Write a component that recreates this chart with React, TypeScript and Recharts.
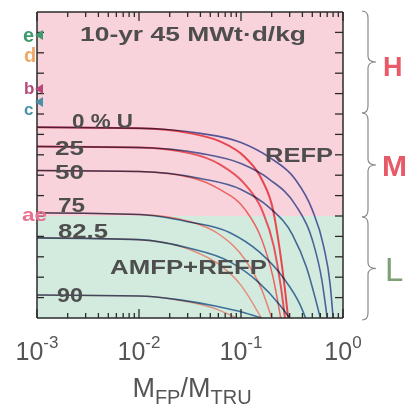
import React from 'react';
import { LineChart, Line, XAxis, YAxis, ReferenceArea } from 'recharts';

// x: M_FP / M_TRU (log), y: arbitrary attractiveness scale 0..15
const xMajor = [0.001, 0.01, 0.1, 1];
const xMajorExp = ['-3', '-2', '-1', '0'];
const xTicks = [
  0.001, 0.002, 0.003, 0.004, 0.005, 0.006, 0.007, 0.008, 0.009,
  0.01, 0.02, 0.03, 0.04, 0.05, 0.06, 0.07, 0.08, 0.09,
  0.1, 0.2, 0.3, 0.4, 0.5, 0.6, 0.7, 0.8, 0.9, 1,
];
const yTicks = [1, 2, 3, 4, 5, 6, 7, 8, 9, 10, 11, 12, 13, 14];
const zoneBoundary = 5;
const yTop = 15;

// REFP curves (blue)
const refp0 = [[0.001, 9.35], [0.01, 9.3], [0.04, 9.05], [0.1, 8.6], [0.19, 7.87], [0.34, 6.8], [0.5, 5.3], [0.64, 3.6], [0.75, 1.6], [0.8, 0]];
const refp25 = [[0.001, 8.41], [0.01, 8.36], [0.04, 8.07], [0.1, 7.57], [0.19, 6.8], [0.34, 5.56], [0.5, 3.84], [0.62, 1.87], [0.7, 0]];
const refp50 = [[0.001, 7.23], [0.01, 7.18], [0.04, 6.84], [0.1, 6.3], [0.19, 5.41], [0.32, 4.08], [0.44, 2.46], [0.54, 0.89], [0.6, 0]];
const refp75 = [[0.001, 5.16], [0.01, 5.07], [0.03, 4.72], [0.078, 4.18], [0.15, 3.25], [0.26, 1.97], [0.38, 0.64], [0.43, 0]];
const refp825 = [[0.001, 3.93], [0.01, 3.84], [0.03, 3.44], [0.078, 2.75], [0.147, 1.77], [0.24, 0.64], [0.3, 0]];
const refp90 = [[0.001, 1.13], [0.01, 1.08], [0.025, 0.89], [0.056, 0.59], [0.11, 0.25], [0.16, 0]];

// AMFP+REFP curves (red)
const amfp0 = [[0.001, 9.35], [0.01, 9.3], [0.032, 9.05], [0.062, 8.66], [0.11, 7.87], [0.16, 6.79], [0.206, 5.31], [0.24, 3.34], [0.27, 1.38], [0.29, 0]];
const amfp25 = [[0.001, 8.41], [0.01, 8.36], [0.032, 8.07], [0.062, 7.53], [0.11, 6.54], [0.16, 5.31], [0.21, 3.5], [0.245, 1.6], [0.27, 0]];
const amfp50 = [[0.001, 7.23], [0.01, 7.18], [0.032, 6.89], [0.062, 6.3], [0.11, 5.31], [0.16, 3.84], [0.206, 2.0], [0.245, 0]];
const amfp75 = [[0.001, 5.16], [0.01, 5.07], [0.032, 4.72], [0.062, 4.08], [0.11, 2.85], [0.16, 1.38], [0.2, 0]];
const amfp825 = [[0.001, 3.93], [0.01, 3.84], [0.032, 3.34], [0.062, 2.6], [0.1, 1.6], [0.135, 0.6], [0.158, 0]];
const amfp90 = [[0.001, 1.13], [0.01, 1.08], [0.03, 0.8], [0.06, 0.4], [0.09, 0]];

const refpCurves = [refp0, refp25, refp50, refp75, refp825, refp90];
const amfpCurves = [amfp0, amfp25, amfp50, amfp75, amfp825, amfp90];
const refpColors = ['#5a66b0', '#5a6cae', '#5470aa', '#4f76ac', '#4a7aae', '#4a7cb0'];
const amfpColors = ['#e8464f', '#e8525a', '#e86460', '#e88272', '#e2907c', '#d89484'];

const toPts = (c: number[][]) => c.map(([x, y]) => ({ x, y }));

const FONT = '"Liberation Sans", Arial, Helvetica, sans-serif';
const AX = '#2a2a2a';

const isMajor = (v: number) => xMajor.findIndex((m) => Math.abs(Math.log10(v) - Math.log10(m)) < 1e-6);

const BottomTick = (props: any) => {
  const { x, y, payload } = props;
  const idx = isMajor(payload.value);
  const len = idx >= 0 ? 9 : 5;
  return (
    <g>
      <line x1={x} x2={x} y1={y} y2={y - len} stroke={AX} strokeWidth={1.3} />
      {idx >= 0 && (
        <text x={x} y={y + 42} textAnchor="middle" fontFamily={FONT} fontSize={25} fill="#555">
          <tspan>10</tspan>
          <tspan dy={-12} fontSize={17}>{xMajorExp[idx]}</tspan>
        </text>
      )}
    </g>
  );
};

const TopTick = (props: any) => {
  const { x, y, payload } = props;
  const idx = isMajor(payload.value);
  const len = idx >= 0 ? 9 : 5;
  return <line x1={x} x2={x} y1={y} y2={y + len} stroke={AX} strokeWidth={1.3} />;
};

const LeftTick = (props: any) => {
  const { x, y } = props;
  return <line x1={x} x2={x + 7} y1={y} y2={y} stroke={AX} strokeWidth={1.3} />;
};

const RightTick = (props: any) => {
  const { x, y } = props;
  return <line x1={x} x2={x - 8} y1={y} y2={y} stroke={AX} strokeWidth={1.3} />;
};

const brace = (x0: number, y1: number, y2: number, tipX: number) => {
  const ym = (y1 + y2) / 2;
  return `M ${x0 - 6} ${y1} Q ${x0} ${y1} ${x0} ${y1 + 7} L ${x0} ${ym - 6} Q ${x0} ${ym} ${tipX} ${ym} Q ${x0} ${ym} ${x0} ${ym + 6} L ${x0} ${y2 - 7} Q ${x0} ${y2} ${x0 - 6} ${y2}`;
};

const Lbl = ({ x, y, t, len, size = 21 }: { x: number; y: number; t: string; len: number; size?: number }) => (
  <text x={x} y={y} fontFamily={FONT} fontSize={size} fontWeight="bold" fill="#4e4e4e" textLength={len} lengthAdjust="spacingAndGlyphs">
    {t}
  </text>
);

export default function App() {
  return (
    <div style={{ position: 'absolute', left: 0, top: 0, width: 410, height: 414, background: '#fff' }}>
      <style>{`.blend-line path { mix-blend-mode: multiply; }`}</style>
      <LineChart width={410} height={414} margin={{ top: 2, right: 57, bottom: 66, left: 27 }}>
        <ReferenceArea x1={0.001} x2={1} y1={zoneBoundary} y2={yTop} fill="#f8d3dc" fillOpacity={1} stroke="none" ifOverflow="hidden" />
        <ReferenceArea x1={0.001} x2={1} y1={0} y2={zoneBoundary} fill="#d3ebdf" fillOpacity={1} stroke="none" ifOverflow="hidden" />
        <XAxis
          dataKey="x"
          type="number"
          scale="log"
          domain={[0.001, 1]}
          allowDataOverflow
          ticks={xTicks}
          interval={0}
          height={30}
          tickSize={0}
          tickMargin={0}
          tick={<BottomTick />}
          axisLine={{ stroke: AX, strokeWidth: 1.5 }}
          tickLine={false}
        />
        <XAxis
          xAxisId="top"
          orientation="top"
          dataKey="x"
          type="number"
          scale="log"
          domain={[0.001, 1]}
          allowDataOverflow
          ticks={xTicks}
          interval={0}
          height={10}
          tickSize={0}
          tickMargin={0}
          tick={<TopTick />}
          axisLine={{ stroke: AX, strokeWidth: 1.5 }}
          tickLine={false}
        />
        <YAxis
          type="number"
          domain={[0, yTop]}
          allowDataOverflow
          ticks={yTicks}
          interval={0}
          width={10}
          tickSize={0}
          tickMargin={0}
          tick={<LeftTick />}
          axisLine={{ stroke: AX, strokeWidth: 1.5 }}
          tickLine={false}
        />
        <YAxis
          yAxisId="right"
          orientation="right"
          type="number"
          domain={[0, yTop]}
          allowDataOverflow
          ticks={yTicks}
          interval={0}
          width={10}
          tickSize={0}
          tickMargin={0}
          tick={<RightTick />}
          axisLine={{ stroke: AX, strokeWidth: 1.5 }}
          tickLine={false}
        />
        {amfpCurves.map((c, i) => (
          <Line
            key={'a' + i}
            data={toPts(c)}
            dataKey="y"
            type="monotone"
            stroke={amfpColors[i]}
            strokeWidth={i < 2 ? 2 : 1.5}
            dot={false}
            isAnimationActive={false}
          />
        ))}
        {refpCurves.map((c, i) => (
          <Line
            key={'r' + i}
            className="blend-line"
            data={toPts(c)}
            dataKey="y"
            type="monotone"
            stroke={refpColors[i]}
            strokeWidth={1.6}
            dot={false}
            isAnimationActive={false}
          />
        ))}
      </LineChart>
      <svg width={410} height={414} style={{ position: 'absolute', left: 0, top: 0, pointerEvents: 'none' }}>
        <Lbl x={80} y={41} t="10-yr 45 MWt·d/kg" len={226} />
        <Lbl x={72} y={128} t="0 % U" len={61} size={20} />
        <Lbl x={55} y={155} t="25" len={29} />
        <Lbl x={55} y={179} t="50" len={29} />
        <Lbl x={58} y={212} t="75" len={27} />
        <Lbl x={58} y={238} t="82.5" len={50} />
        <Lbl x={57} y={302} t="90" len={26} />
        <Lbl x={265} y={162} t="REFP" len={68} />
        <Lbl x={110} y={274} t="AMFP+REFP" len={157} />

        <text x={23} y={42} fontFamily={FONT} fontSize={20} fontWeight="bold" fill="#3f9a6e">e</text>
        <path d="M 35 35 L 43 30 L 43 40 Z" fill="#3f9a6e" />
        <text x={24} y={62} fontFamily={FONT} fontSize={20} fontWeight="bold" fill="#f0a868">d</text>
        <text x={24} y={94} fontFamily={FONT} fontSize={17} fontWeight="bold" fill="#b84878">b</text>
        <path d="M 35 89 L 43 84 L 43 94 Z" fill="#b84878" />
        <text x={24} y={115} fontFamily={FONT} fontSize={17} fontWeight="bold" fill="#4a90a8">c</text>
        <path d="M 35 102 L 43 97 L 43 107 Z" fill="#4a90a8" />
        <text x={22} y={221} fontFamily={FONT} fontSize={19} fontWeight="bold" fill="#e87090" textLength={25} lengthAdjust="spacingAndGlyphs">ae</text>

        <path d={brace(368, 11, 113, 376)} fill="none" stroke="#8a8a8a" strokeWidth={1.2} />
        <path d={brace(368, 113, 217, 376)} fill="none" stroke="#8a8a8a" strokeWidth={1.2} />
        <path d={brace(368, 217, 320, 376)} fill="none" stroke="#8a8a8a" strokeWidth={1.2} />
        <text x={383} y={76} fontFamily={FONT} fontSize={27} fontWeight="bold" fill="#e85a68">H</text>
        <text x={382} y={176} fontFamily={FONT} fontSize={30} fontWeight="bold" fill="#e85a68">M</text>
        <text x={385} y={281} fontFamily={FONT} fontSize={33} fill="#7f9f74">L</text>

        <text x={192} y={397} textAnchor="middle" fontFamily={FONT} fontSize={27} fill="#555">
          <tspan>M</tspan>
          <tspan dy={7} fontSize={20}>FP</tspan>
          <tspan dy={-7} fontSize={27}>/M</tspan>
          <tspan dy={7} fontSize={20}>TRU</tspan>
        </text>
      </svg>
    </div>
  );
}
